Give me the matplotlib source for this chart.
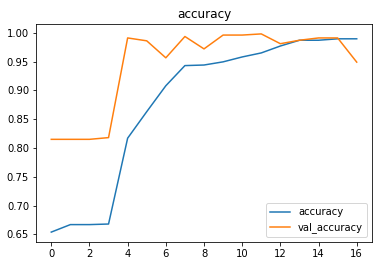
import matplotlib.pyplot as plt

# Training history values
epochs = list(range(17))
accuracy = [0.654, 0.667, 0.667, 0.668, 0.817, 0.863, 0.908, 0.943, 0.944,
            0.9495, 0.958, 0.965, 0.977, 0.987, 0.987, 0.9895, 0.9895]
val_accuracy = [0.815, 0.815, 0.815, 0.818, 0.991, 0.986, 0.9565, 0.9935, 0.972,
                0.996, 0.996, 0.998, 0.981, 0.987, 0.991, 0.991, 0.949]

# Plot
fig = plt.figure(figsize=(382 / 72, 271 / 72), dpi=72)
ax = fig.add_axes([36 / 382, 1 - 242 / 271, 336 / 382, 218 / 271])
ax.plot(epochs, accuracy, label='accuracy')
ax.plot(epochs, val_accuracy, label='val_accuracy')
ax.set_title('accuracy')
ax.set_xticks([0, 2, 4, 6, 8, 10, 12, 14, 16])
ax.legend(loc='lower right')
fig.savefig('out.png', dpi=72)
